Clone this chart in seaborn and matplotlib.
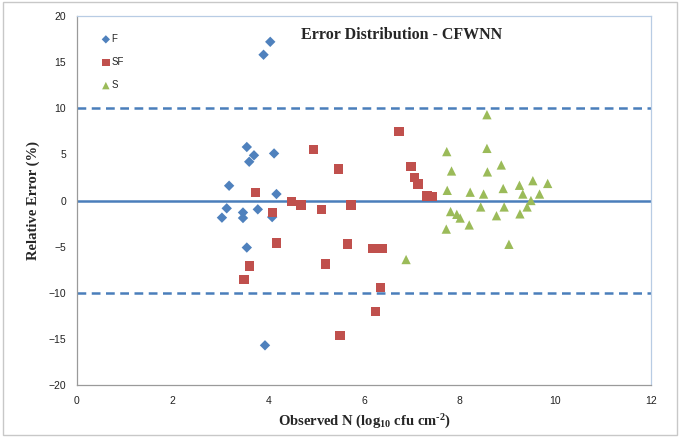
import matplotlib
matplotlib.use("Agg")
import matplotlib.pyplot as plt
import seaborn as sns
import pandas as pd
from matplotlib.patches import Rectangle

# ---- data ----
f_x = [3.03, 3.13, 3.18, 3.47, 3.47, 3.55, 3.60, 3.70, 3.55, 3.78, 3.90, 4.04, 4.12, 4.17, 4.08, 3.93]
f_y = [-1.86, -0.85, 1.6, -1.3, -1.9, 5.8, 4.2, 4.9, -5.1, -0.96, 15.8, 17.2, 5.1, 0.7, -1.8, -15.7]

sf_x = [3.49, 3.61, 3.73, 4.08, 4.17, 4.49, 4.68, 4.95, 5.11, 5.19, 5.46, 5.50, 5.66, 5.73,
        6.19, 6.24, 6.34, 6.38, 6.73, 6.98, 7.05, 7.13, 7.32, 7.43]
sf_y = [-8.6, -7.1, 0.85, -1.3, -4.6, -0.1, -0.5, 5.55, -1.0, -6.9, 3.4, -14.6, -4.7, -0.5,
        -5.2, -12.0, -9.45, -5.2, 7.5, 3.7, 2.5, 1.8, 0.5, 0.4]

s_x = [6.88, 7.72, 7.73, 7.74, 7.81, 7.83, 7.94, 8.01, 8.20, 8.22, 8.44, 8.50, 8.57, 8.57,
       8.58, 8.77, 8.87, 8.91, 8.93, 9.03, 9.25, 9.26, 9.32, 9.41, 9.49, 9.53, 9.67, 9.84]
s_y = [-6.4, -3.1, 5.3, 1.1, -1.2, 3.2, -1.5, -1.9, -2.65, 0.9, -0.7, 0.7, 9.3, 5.65,
       3.1, -1.65, 3.85, 1.3, -0.7, -4.75, 1.65, -1.45, 0.7, -0.7, 0.0, 2.15, 0.7, 1.85]

series_names = ["F", "SF", "S"]
x_ticks = [0, 2, 4, 6, 8, 10, 12]
y_ticks = [-20, -15, -10, -5, 0, 5, 10, 15, 20]
limit_lines = [10, -10]
title = "Error Distribution - CFWNN"

df = pd.concat([
    pd.DataFrame({"x": f_x, "y": f_y, "grp": "F"}),
    pd.DataFrame({"x": sf_x, "y": sf_y, "grp": "SF"}),
    pd.DataFrame({"x": s_x, "y": s_y, "grp": "S"}),
], ignore_index=True)

sns.set_style("white")
plt.rcParams["font.family"] = ["Liberation Sans", "DejaVu Sans"]
plt.rcParams["mathtext.fontset"] = "custom"
plt.rcParams["mathtext.rm"] = "Liberation Serif:bold"
plt.rcParams["mathtext.it"] = "Liberation Serif:bold"
plt.rcParams["mathtext.bf"] = "Liberation Serif:bold"
plt.rcParams["mathtext.default"] = "rm"

fig = plt.figure(figsize=(6.8, 4.37), dpi=100)
ax = fig.add_axes([77 / 680, 52 / 437, 574 / 680, 369 / 437])

colors = {"F": "#4f81bd", "SF": "#c0504d", "S": "#9bbb59"}
markers = {"F": "D", "SF": "s", "S": "^"}
sizes = {"F": 28, "SF": 45, "S": 45}

line_col = "#4a7ebb"
ax.axhline(0, color=line_col, lw=1.8, zorder=1)
for v in limit_lines:
    ax.axhline(v, color=line_col, lw=1.8, ls=(0, (3.5, 2.2)), zorder=1)

for g in series_names:
    sub = df[df["grp"] == g]
    sns.scatterplot(data=sub, x="x", y="y", ax=ax, color=colors[g], marker=markers[g],
                    s=sizes[g], edgecolor="none", label=g, zorder=3)

ax.set_xlim(0, 12)
ax.set_ylim(-20, 20)
ax.set_xticks(x_ticks)
ax.set_yticks(y_ticks)
ax.tick_params(axis="both", labelsize=7.5, length=3, width=0.8, color="#868686",
               direction="out", labelcolor="#222222", pad=5)
for side in ["left", "bottom"]:
    ax.spines[side].set_color("#9a9a9a")
    ax.spines[side].set_linewidth(0.9)
for side in ["top", "right"]:
    ax.spines[side].set_color("#b8cce4")
    ax.spines[side].set_linewidth(0.9)

serif = ["Liberation Serif", "DejaVu Serif"]
ax.set_xlabel(r"Observed N (log$_{10}$ cfu cm$^{\text{-}2}$)", family=serif, fontweight="bold",
              fontsize=10.5, labelpad=5)
ax.set_ylabel("Relative Error (%)", family=serif, fontweight="bold", fontsize=10.5, labelpad=6)
ax.text(6.78, 17.9, title, family=serif, fontweight="bold", fontsize=11.5,
        ha="center", va="center")

leg = ax.legend(loc="upper left", bbox_to_anchor=(0.035, 0.962), frameon=False,
                fontsize=7, handletextpad=0.1, labelspacing=1.35, borderaxespad=0,
                handlelength=1.0, markerscale=0.8)

fig.patches.append(Rectangle((0.005, 0.005), 0.99, 0.99, transform=fig.transFigure,
                             fill=False, edgecolor="#c8c8c8", lw=1))

fig.savefig("out.png", dpi=100)
